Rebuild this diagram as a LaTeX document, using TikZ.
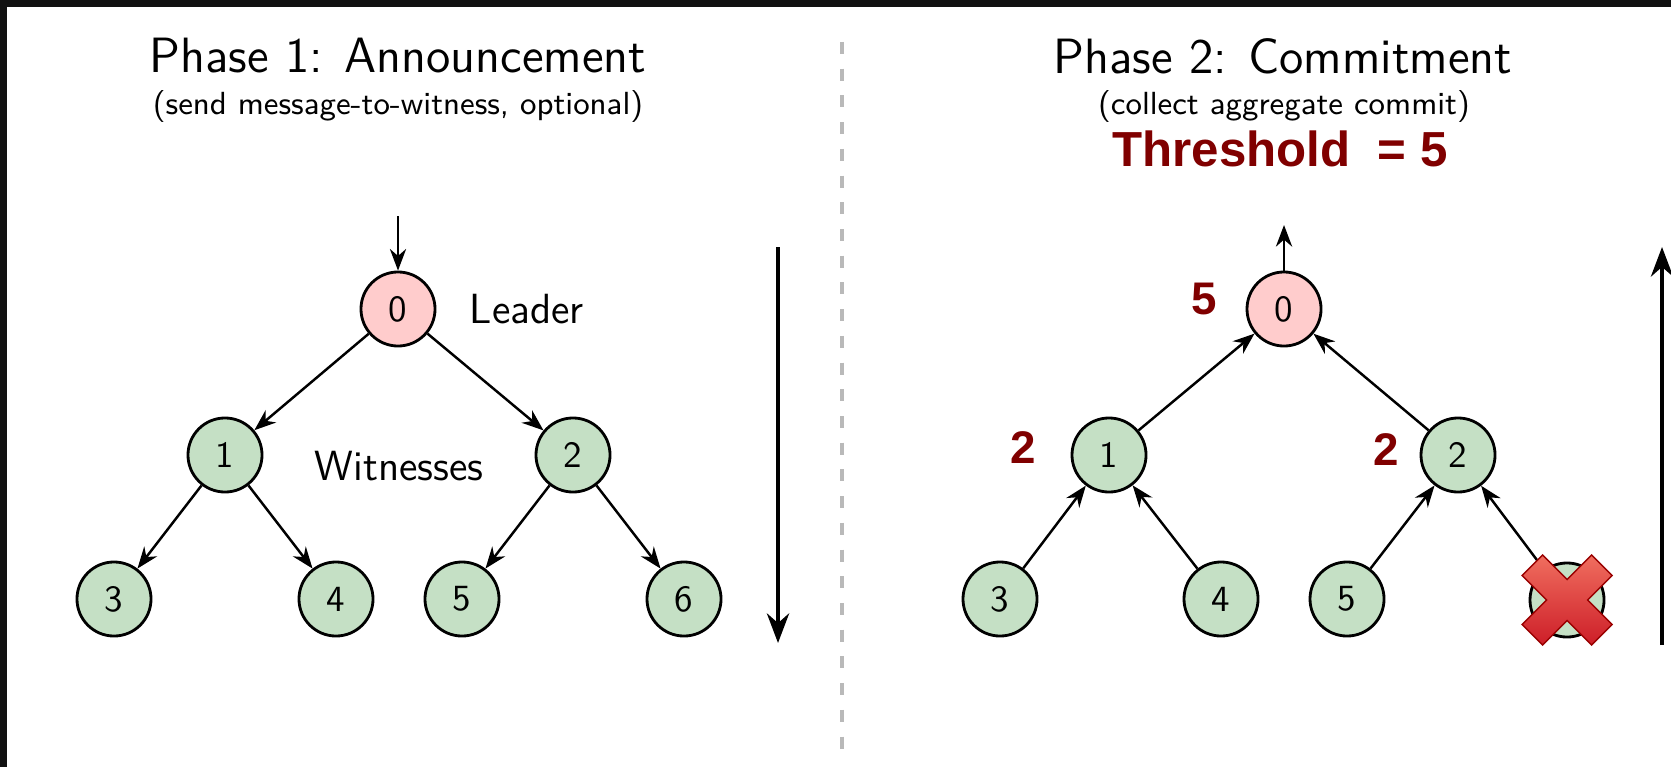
\documentclass[tikz,border=0pt]{standalone}
\usepackage{fontspec}
\newfontfamily\numfont{Liberation Sans}
\usetikzlibrary{arrows.meta,calc,positioning}
\definecolor{leaderpink}{RGB}{255,204,204}
\definecolor{witgreen}{RGB}{197,224,197}
\definecolor{cntred}{RGB}{128,0,0}
\definecolor{framegray}{RGB}{17,17,17}
\definecolor{crosstop}{RGB}{240,110,95}
\definecolor{crossmid}{RGB}{230,26,34}
\definecolor{crossbot}{RGB}{205,30,40}

\begin{document}
\begin{tikzpicture}[x=0.01cm,y=-0.01cm,>=Stealth,
  nd/.style={circle,draw,line width=0.8pt,minimum size=0.74cm,inner sep=0pt,font=\sffamily\fontsize{10.5}{12}\selectfont},
  ldr/.style={nd,fill=leaderpink},
  wit/.style={nd,fill=witgreen},
  tarr/.style={->,line width=0.7pt},
  parr/.style={->,line width=1.2pt},
  ttl/.style={font=\sffamily\fontsize{14.1}{16}\selectfont},
  subttl/.style={font=\sffamily\fontsize{9.1}{11}\selectfont},
  lbl/.style={font=\sffamily\fontsize{12}{14}\selectfont},
  cnt/.style={text=cntred,font=\numfont\bfseries\fontsize{13}{15}\selectfont}]
\useasboundingbox (0,0) rectangle (1671,767);
\fill[framegray] (0,0) rectangle (1671,767);
\fill[white] (7,7) rectangle (1671,767);
\draw[gray!55,line width=0.9pt,dash pattern=on 0.12cm off 0.147cm] (842,42) -- (842,752);
% phase 1: leader sends down the tree
\node[ttl] (t1) at (398,56) {Phase 1: Announcement};
\node[subttl] (s1) at (398,106) {(send message-to-witness, optional)};
\node[ldr] (a0) at (398,309) {0};
\node[wit] (a1) at (225,455) {1};
\node[wit] (a2) at (573,455) {2};
\node[wit] (a3) at (114,599) {3};
\node[wit] (a4) at (336,599) {4};
\node[wit] (a5) at (462,599) {5};
\node[wit] (a6) at (684,599) {6};
\node[lbl] (lead) at (527,309) {Leader};
\node[lbl] (wits) at (399,466) {Witnesses};
\coordinate (ain) at (398,216);
\draw[tarr] (ain) -- (a0);
\foreach \p/\c in {0/1,0/2,1/3,1/4,2/5,2/6}
  \draw[tarr] (a\p) -- (a\c);
\coordinate (dtop) at (778,247);
\coordinate (dbot) at (778,643);
\draw[parr] (dtop) -- (dbot);
% phase 2: commits go back up
\node[ttl] (t2) at (1283,56) {Phase 2: Commitment};
\node[subttl] (s2) at (1284,106) {(collect aggregate commit)};
\node[cnt,font=\numfont\bfseries\fontsize{14}{16}\selectfont] (thr) at (1280,149) {Threshold\ \ = 5};
\node[ldr] (b0) at (1284,309) {0};
\node[wit] (b1) at (1109,455) {1};
\node[wit] (b2) at (1458,455) {2};
\node[wit] (b3) at (1000,599) {3};
\node[wit] (b4) at (1221,599) {4};
\node[wit] (b5) at (1347,599) {5};
\node[wit] (b6) at (1567,600) {6};
\coordinate (bout) at (1284,225);
\draw[tarr] (b0) -- (bout);
\foreach \p/\c in {0/1,0/2,1/3,1/4,2/5,2/6}
  \draw[tarr] (b\c) -- (b\p);
\node[cnt] (c0) at (1204,299) {5};
\node[cnt] (c1) at (1023,448) {2};
\node[cnt] (c2) at (1386,450) {2};
\coordinate (utop) at (1662,247);
\coordinate (ubot) at (1662,645);
\draw[parr] (ubot) -- (utop);
% failed witness
\begin{scope}[shift={(b6)}]
\shade[top color=crosstop,middle color=crossmid,bottom color=crossbot,draw=red!60!black,line width=0.4pt]
  (0,-20.5) -- (24.5,-45) -- (45,-24.5) -- (20.5,0) -- (45,24.5) -- (24.5,45)
  -- (0,20.5) -- (-24.5,45) -- (-45,24.5) -- (-20.5,0) -- (-45,-24.5) -- (-24.5,-45) -- cycle;
\end{scope}
\end{tikzpicture}
\end{document}
